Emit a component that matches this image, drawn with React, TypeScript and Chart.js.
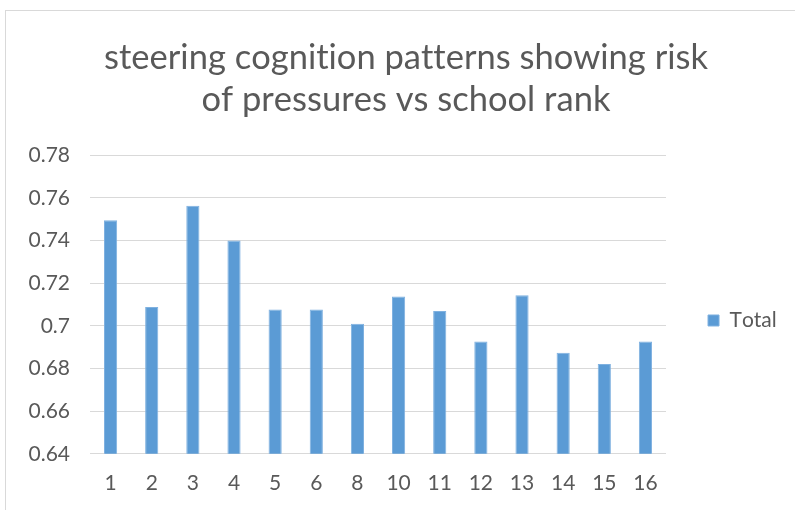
import React, { useEffect, useRef } from "react";
import { Chart, registerables } from "chart.js";

Chart.register(...registerables);

const categories = ["1", "2", "3", "4", "5", "6", "8", "10", "11", "12", "13", "14", "15", "16"];
const totalValues = [0.7495, 0.7088, 0.7563, 0.74, 0.7077, 0.7077, 0.701, 0.7137, 0.7069, 0.6927, 0.7143, 0.6874, 0.6821, 0.6926];
const titleLines = ["steering cognition patterns showing risk", "of pressures vs school rank"];
const seriesName = "Total";
const yMin = 0.64;
const yMax = 0.78;
const yStep = 0.02;

const noLigatures = {
  id: "noLigatures",
  beforeDraw(chart: any) {
    const ctx = chart.ctx as any;
    ctx.textRendering = "optimizeSpeed";
    ctx.fontKerning = "none";
  },
};

export default function App() {
  const ref = useRef<HTMLCanvasElement>(null);
  useEffect(() => {
    if (!ref.current) return;
    const font = "Lato, 'Open Sans', sans-serif";
    const chart = new Chart(ref.current, {
      type: "bar",
      data: {
        labels: categories,
        datasets: [
          {
            label: seriesName,
            data: totalValues,
            backgroundColor: "#5b9bd5",
            borderColor: "#7fb1e0",
            borderWidth: 1,
            barPercentage: 0.32,
            categoryPercentage: 1,
          },
        ],
      },
      plugins: [noLigatures],
      options: {
        responsive: false,
        animation: false,
        devicePixelRatio: 1,
        layout: { padding: { top: 37, right: 11, bottom: -3, left: 28 } },
        plugins: {
          title: {
            display: true,
            text: titleLines,
            color: "#595959",
            font: { family: font, size: 34.5, weight: "normal", lineHeight: 1.22 },
            padding: { top: 0, bottom: 34 },
          },
          legend: {
            position: "right",
            fullSize: false,
            labels: {
              color: "#595959",
              font: { family: font, size: 21 },
              boxWidth: 11,
              boxHeight: 11,
              padding: 10,
            },
            title: {
              display: true,
              text: " ",
              font: { size: 1, lineHeight: 1 },
              padding: { top: 0, bottom: 31 },
            },
          },
          tooltip: { enabled: false },
        },
        scales: {
          x: {
            grid: { display: false, drawTicks: false },
            border: { display: false },
            ticks: { color: "#595959", font: { family: font, size: 21 }, padding: 17 },
          },
          y: {
            min: yMin,
            max: yMax,
            grid: { color: "#d9d9d9", lineWidth: 1, drawTicks: false },
            border: { display: false },
            ticks: {
              stepSize: yStep,
              color: "#595959",
              font: { family: font, size: 21 },
              padding: 20,
              callback: (v: any) => String(Math.round(Number(v) * 100) / 100),
            },
            afterFit: (scale: any) => {
              scale.width = 62;
            },
          },
          gap: {
            type: "linear",
            position: "right",
            display: true,
            grid: { display: false, drawTicks: false },
            border: { display: false },
            ticks: { display: false },
            afterFit: (scale: any) => {
              scale.width = 32;
            },
          },
        },
      },
    });
    return () => chart.destroy();
  }, []);
  return (
    <div style={{ position: "fixed", left: 0, top: 0, width: 795, height: 510, background: "#fff", overflow: "hidden" }}>
      <div style={{ position: "absolute", left: 5, top: 10, width: 820, height: 540, border: "1px solid #d9d9d9" }} />
      <canvas ref={ref} width={795} height={510} style={{ position: "absolute", left: 0, top: 0 }} />
    </div>
  );
}
